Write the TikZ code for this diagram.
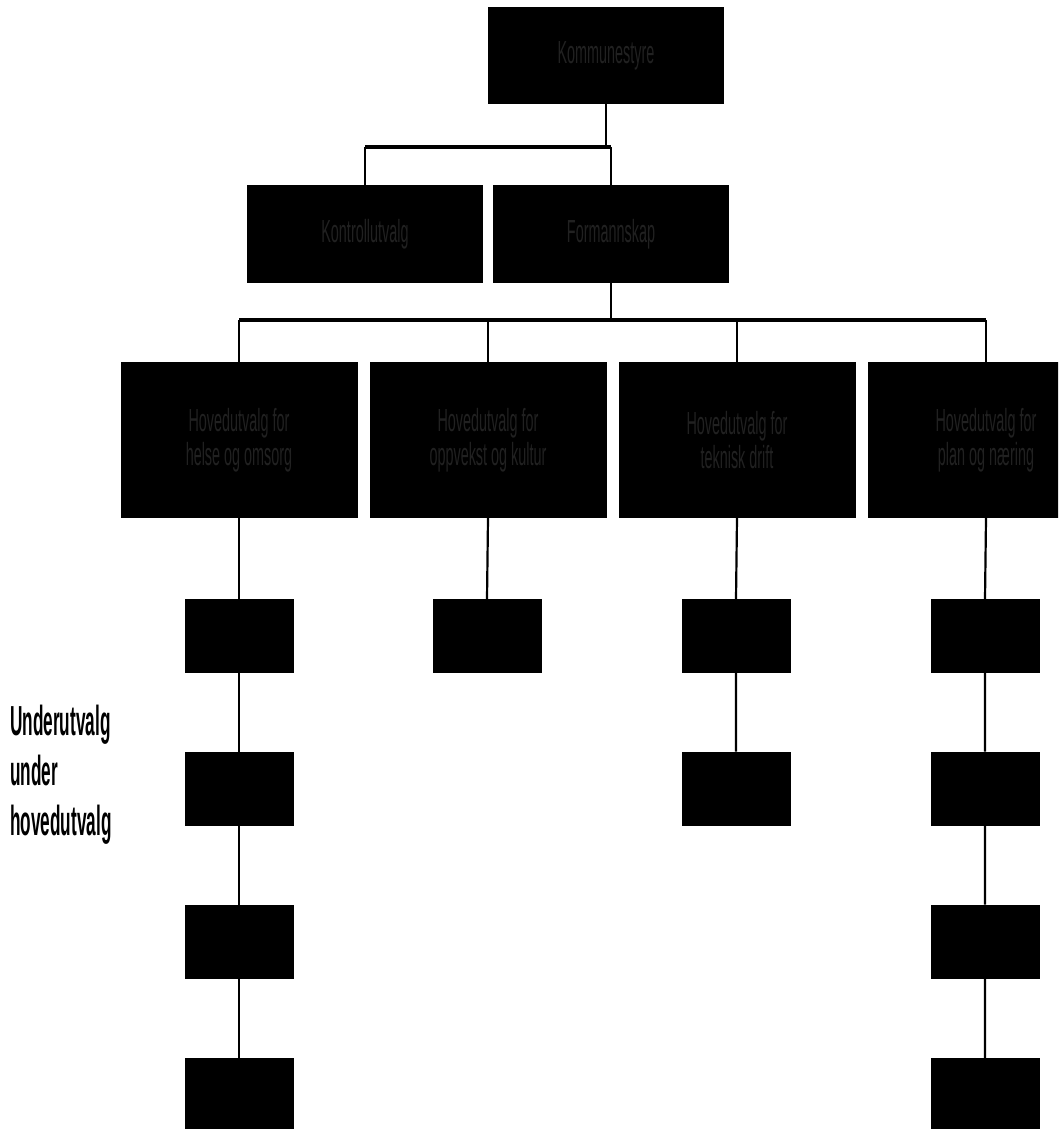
\documentclass[tikz,border=0pt]{standalone}
\usepackage{fontspec}
\setmainfont{Liberation Sans}
\newfontfamily\narrowfont[FakeStretch=0.45]{Liberation Sans}
\newfontfamily\narrowbold[FakeStretch=0.41]{Liberation Sans Bold}
\definecolor{faint}{gray}{0.13}
\begin{document}
\begin{tikzpicture}[x=1pt,y=-1pt,
  box/.style={fill=black, draw=none, inner sep=0pt, outer sep=0pt, text=faint,
    font=\narrowfont\fontsize{32}{34}\selectfont, align=center},
  big/.style={box, minimum width=236pt, minimum height=97pt},
  mainbox/.style={box, minimum width=237pt, minimum height=156pt},
  small/.style={box, minimum width=109pt, minimum height=74pt},
  conn/.style={line width=2.2pt},
  bus/.style={line width=3.8pt},
  lbl/.style={anchor=base west, inner sep=0pt, font=\narrowbold\fontsize{42}{50}\selectfont}]
\useasboundingbox (0,0) rectangle (1058,1129);
\clip (0,0) rectangle (1058,1129);

% boxes
\node[big] (top) at (606,56) {Kommunestyre};
\node[big, minimum height=98pt] (kl) at (365,234) {Kontrollutvalg};
\node[big, minimum height=98pt] (fs) at (611,234) {Formannskap};

\node[mainbox] (h1) at (239,440) {Hovedutvalg for\\helse og omsorg};
\node[mainbox] (h2) at (488,440) {Hovedutvalg for\\oppvekst og kultur};
\node[mainbox] (h3) at (737,440) {Hovedutvalg for\\teknisk drift};
\node[mainbox] (h4) at (986,440) {Hovedutvalg for\\plan og n\ae ring};

\node[small] (a1) at (239,636) {};
\node[small] (a2) at (239,788.5) {};
\node[small] (a3) at (239,941.5) {};
\node[small] (a4) at (239,1095) {};

\node[small] (b1) at (487,636) {};

\node[small] (c1) at (736,636) {};
\node[small] (c2) at (736,788.5) {};

\node[small] (d1) at (985,636) {};
\node[small] (d2) at (985,788.5) {};
\node[small] (d3) at (985,941.5) {};
\node[small] (d4) at (985,1095) {};

% side label
\node[lbl] (u1) at (10,735) {Underutvalg};
\node[lbl] (u2) at (10,785) {under};
\node[lbl] (u3) at (10,835) {hovedutvalg};

% connectors
\coordinate (j1) at (606,147);
\draw[conn] (top.south) -- (j1);
\draw[bus] (kl.north |- j1) -- (fs.north |- j1);
\draw[conn] (kl.north |- j1) -- (kl.north);
\draw[conn] (fs.north |- j1) -- (fs.north);

\coordinate (j2) at (611,320);
\draw[conn] (fs.south) -- (j2);
\draw[bus] (h1.north |- j2) -- (h4.north |- j2);
\foreach \n in {h1,h2,h3,h4} \draw[conn] (\n.north |- j2) -- (\n.north);

\draw[conn] (h1.south) -- (a1.north) (a1.south) -- (a2.north) (a2.south) -- (a3.north) (a3.south) -- (a4.north);
\draw[conn] (h2.south) -- (b1.north);
\draw[conn] (h3.south) -- (c1.north) (c1.south) -- (c2.north);
\draw[conn] (h4.south) -- (d1.north) (d1.south) -- (d2.north) (d2.south) -- (d3.north) (d3.south) -- (d4.north);
\end{tikzpicture}
\end{document}
